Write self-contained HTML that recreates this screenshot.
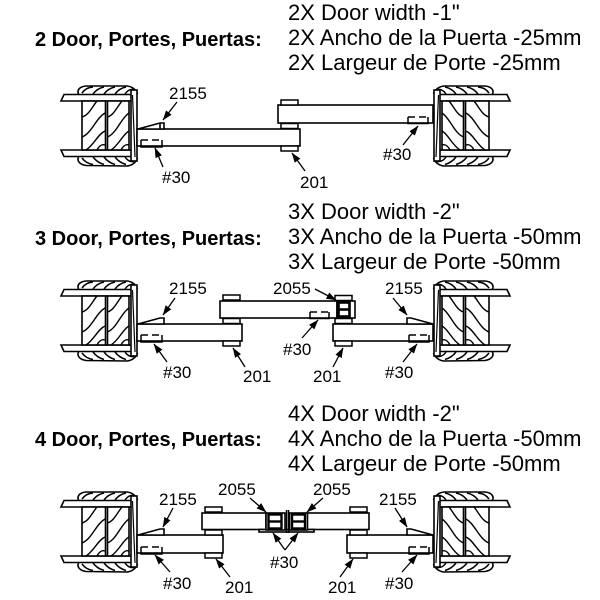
<!DOCTYPE html>
<html><head><meta charset="utf-8"><style>
html,body{margin:0;padding:0;background:#fff;}
svg{display:block;}
text{font-family:"Liberation Sans",Arial,sans-serif;fill:#000;}
.h{font-size:22px;}
.hb{font-size:20px;font-weight:bold;}
.l{font-size:17px;}
</style></head><body>
<svg width="600" height="600" viewBox="0 0 600 600" xmlns="http://www.w3.org/2000/svg">
<defs>
<marker id="ah" markerWidth="10" markerHeight="7" refX="9.5" refY="3.5" orient="auto" markerUnits="userSpaceOnUse"><path d="M0,0 L10,3.5 L0,7 Z" fill="#000"/></marker>
<g id="door" fill="none" stroke="#000" stroke-width="1.6">
  <!-- top tire -->
  <path d="M79,95 C76,90 80,86.5 86,86 L127,86 C132,86.5 136,89.5 137.5,94" fill="#fff"/>
  <g stroke-width="1.5">
    <path d="M82,93 C85,89 88,87.5 93,87"/>
    <path d="M93,94 C96,90 99,88 104,87"/>
    <path d="M104,94 C107,90 110,88 115,87"/>
    <path d="M115,94 C118,90 121,88 126,87"/>
    <path d="M125,94 C127,91 130,89 134,89.5"/>
  </g>
  <!-- bottom tire -->
  <path d="M79,156 C76,161 80,164.5 86,165.5 L127,166 C132,165.5 136,162.5 137.5,158" fill="#fff"/>
  <g stroke-width="1.5">
    <path d="M82,158 C85,162 88,163.5 93,164.5"/>
    <path d="M93,157 C96,161 99,163 104,164.5"/>
    <path d="M104,157 C107,161 110,163 115,164.5"/>
    <path d="M115,157 C118,161 121,163 126,164.5"/>
    <path d="M125,157 C127,160 130,162 134,161.5"/>
  </g>
  <!-- flanges -->
  <polygon points="64,94.5 133,94.5 133,101 61,101" fill="#fff"/>
  <polygon points="61,150 133,150 133,156.5 64,156.5" fill="#fff"/>
  <!-- wood -->
  <rect x="82" y="101" width="47" height="49" fill="#fff"/>
  <line x1="105.5" y1="101" x2="105.5" y2="150"/>
  <line x1="107.5" y1="101" x2="107.5" y2="150"/>
  <g stroke-width="1.4">
    <path d="M82,117 C89,115 92,107 97,101"/>
    <path d="M82,137 C92,133 96,118 105,113"/>
    <path d="M86,150 C94,145 98,134 105,131"/>
    <path d="M97,150 C99,146 102,144 105,145"/>
    <path d="M107.5,117 C114,115 117,107 122,101"/>
    <path d="M107.5,137 C117,133 121,118 129,113"/>
    <path d="M111,150 C119,145 123,134 129,131"/>
    <path d="M121,150 C123,146 126,144 129,145"/>
  </g>
  <!-- plate -->
  <rect x="131" y="90" width="6" height="71" fill="#fff"/>
  <line x1="132.5" y1="95" x2="135" y2="157" stroke-width="1.2"/>
</g>
<g id="pin" fill="#fff" stroke="#000" stroke-width="1.5">
  <rect x="0" y="0" width="17" height="5"/>
</g>
</defs>

<!-- ============ HEADERS ============ -->
<text class="hb" x="35" y="46">2 Door, Portes, Puertas:</text>
<text class="h" x="288" y="20">2X Door width -1"</text>
<text class="h" x="288" y="45">2X Ancho de la Puerta -25mm</text>
<text class="h" x="288" y="70">2X Largeur de Porte -25mm</text>

<text class="hb" x="35" y="245">3 Door, Portes, Puertas:</text>
<text class="h" x="288" y="219">3X Door width -2"</text>
<text class="h" x="288" y="244">3X Ancho de la Puerta -50mm</text>
<text class="h" x="288" y="269">3X Largeur de Porte -50mm</text>

<text class="hb" x="35" y="446">4 Door, Portes, Puertas:</text>
<text class="h" x="288" y="421">4X Door width -2"</text>
<text class="h" x="288" y="446">4X Ancho de la Puerta -50mm</text>
<text class="h" x="288" y="471">4X Largeur de Porte -50mm</text>

<!-- ============ SECTION 1 ============ -->
<g>
  <use href="#door"/>
  <use href="#door" transform="translate(571,0) scale(-1,1)"/>
  <g fill="#fff" stroke="#000" stroke-width="1.6">
    <rect x="278" y="105" width="155" height="18"/>
    <rect x="137" y="129" width="163" height="17"/>
    <polygon points="138,129 160,123 164,123 164,129"/>
    <line x1="160" y1="123" x2="160" y2="129"/>
  </g>
  <use href="#pin" x="281" y="100"/>
  <use href="#pin" x="281" y="123.5"/>
  <use href="#pin" x="281" y="146"/>
  <g fill="none" stroke="#000" stroke-width="1.5">
    <line x1="141" y1="140" x2="162" y2="140" stroke-dasharray="7,4"/>
    <polyline points="141,140 141,147 162,147 162,140"/>
    <line x1="408" y1="117" x2="428" y2="117" stroke-dasharray="7,4"/>
    <polyline points="408,117 408,123.5 428,123.5 428,117"/>
  </g>
  <g stroke="#000" stroke-width="1.3" marker-end="url(#ah)">
    <line x1="177" y1="102" x2="163" y2="120"/>
    <line x1="163" y1="167" x2="155" y2="148"/>
    <line x1="305" y1="171" x2="292" y2="153"/>
    <line x1="403" y1="145" x2="418" y2="126"/>
  </g>
  <text class="l" x="169" y="99">2155</text>
  <text class="l" x="162" y="183">#30</text>
  <text class="l" x="300" y="188">201</text>
  <text class="l" x="383" y="160">#30</text>
</g>

<!-- ============ SECTION 2 ============ -->
<g transform="translate(0,195)">
  <use href="#door"/>
  <use href="#door" transform="translate(571,0) scale(-1,1)"/>
  <g fill="#fff" stroke="#000" stroke-width="1.6">
    <rect x="220" y="106" width="117" height="17"/>
    <rect x="337" y="106" width="18" height="17"/>
    <rect x="137" y="129" width="105" height="17"/>
    <rect x="333" y="129" width="100" height="17"/>
    <polygon points="138,129 160,123 164,123 164,129"/>
    <polygon points="433,129 411,123 407,123 407,129"/>
  </g>
  <g fill="none" stroke="#000" stroke-width="2.6">
    <rect x="338.5" y="107.5" width="11" height="14"/>
    <line x1="338.5" y1="114.5" x2="349.5" y2="114.5"/>
  </g>
  <use href="#pin" x="223" y="100"/>
  <use href="#pin" x="223" y="123.5"/>
  <use href="#pin" x="223" y="146"/>
  <use href="#pin" x="335" y="100.5"/>
  <use href="#pin" x="335" y="123.5"/>
  <use href="#pin" x="335" y="146"/>
  <g fill="none" stroke="#000" stroke-width="1.5">
    <line x1="141" y1="140" x2="162" y2="140" stroke-dasharray="7,4"/>
    <polyline points="141,140 141,147 162,147 162,140"/>
    <line x1="310" y1="117" x2="329" y2="117" stroke-dasharray="7,4"/>
    <polyline points="310,117 310,123.5 329,123.5 329,117"/>
    <line x1="409" y1="140" x2="429" y2="140" stroke-dasharray="7,4"/>
    <polyline points="409,140 409,147 429,147 429,140"/>
  </g>
  <g stroke="#000" stroke-width="1.3" marker-end="url(#ah)">
    <line x1="175" y1="103" x2="163" y2="120"/>
    <line x1="167" y1="167" x2="154" y2="149"/>
    <line x1="245" y1="172" x2="233" y2="153"/>
    <line x1="315" y1="94" x2="336" y2="105"/>
    <line x1="302" y1="143" x2="318" y2="125"/>
    <line x1="333" y1="172" x2="343" y2="153"/>
    <line x1="393" y1="103" x2="407" y2="120"/>
    <line x1="403" y1="167" x2="417" y2="149"/>
  </g>
  <text class="l" x="169" y="99">2155</text>
  <text class="l" x="163" y="183">#30</text>
  <text class="l" x="243" y="187">201</text>
  <text class="l" x="273" y="99">2055</text>
  <text class="l" x="283" y="160">#30</text>
  <text class="l" x="313" y="187">201</text>
  <text class="l" x="385" y="99">2155</text>
  <text class="l" x="385" y="183">#30</text>
</g>

<!-- ============ SECTION 3 ============ -->
<g transform="translate(0,406)">
  <use href="#door"/>
  <use href="#door" transform="translate(571,0) scale(-1,1)"/>
  <g fill="#fff" stroke="#000" stroke-width="1.6">
    <rect x="202" y="107" width="64" height="16.5"/>
    <rect x="307" y="107" width="62" height="16.5"/>
    <rect x="259" y="123.5" width="55" height="2.5"/>
    <rect x="266" y="107" width="19" height="17"/>
    <rect x="289.5" y="107" width="18" height="17"/>
    <rect x="137" y="129" width="86" height="18"/>
    <rect x="347" y="129" width="86" height="18"/>
    <polygon points="138,129 160,123 164,123 164,129"/>
    <polygon points="433,129 411,123 407,123 407,129"/>
  </g>
  <g fill="none" stroke="#000" stroke-width="2.4">
    <rect x="268.5" y="108.5" width="13" height="14"/>
    <line x1="268.5" y1="115.5" x2="281.5" y2="115.5"/>
    <rect x="292" y="108.5" width="13" height="14"/>
    <line x1="292" y1="115.5" x2="305" y2="115.5"/>
  </g>
  <g stroke="#000" stroke-width="1.5">
    <line x1="286.5" y1="104" x2="286.5" y2="127"/>
    <line x1="288.5" y1="104" x2="288.5" y2="127"/>
  </g>
  <use href="#pin" x="205" y="101"/>
  <use href="#pin" x="205" y="124"/>
  <use href="#pin" x="205" y="147"/>
  <use href="#pin" x="350" y="101"/>
  <use href="#pin" x="350" y="124"/>
  <use href="#pin" x="350" y="147"/>
  <g fill="none" stroke="#000" stroke-width="1.5">
    <line x1="141" y1="141" x2="162" y2="141" stroke-dasharray="7,4"/>
    <polyline points="141,141 141,148 162,148 162,141"/>
    <line x1="409" y1="141" x2="429" y2="141" stroke-dasharray="7,4"/>
    <polyline points="409,141 409,148 429,148 429,141"/>
  </g>
  <g stroke="#000" stroke-width="1.3" marker-end="url(#ah)">
    <line x1="173" y1="102" x2="163" y2="121"/>
    <line x1="170" y1="166" x2="155" y2="149"/>
    <line x1="230" y1="171" x2="216" y2="153"/>
    <line x1="250" y1="92" x2="266" y2="106"/>
    <line x1="323" y1="92" x2="307" y2="106"/>
    <line x1="285" y1="144" x2="273" y2="127"/>
    <line x1="285" y1="144" x2="298" y2="127"/>
    <line x1="340" y1="171" x2="353" y2="153"/>
    <line x1="395" y1="102" x2="407" y2="121"/>
    <line x1="402" y1="166" x2="417" y2="149"/>
  </g>
  <text class="l" x="159" y="99">2155</text>
  <text class="l" x="163" y="183">#30</text>
  <text class="l" x="225" y="187">201</text>
  <text class="l" x="218" y="89">2055</text>
  <text class="l" x="313" y="89">2055</text>
  <text class="l" x="270" y="162">#30</text>
  <text class="l" x="328" y="187">201</text>
  <text class="l" x="379" y="99">2155</text>
  <text class="l" x="385" y="183">#30</text>
</g>
</svg>
</body></html>
